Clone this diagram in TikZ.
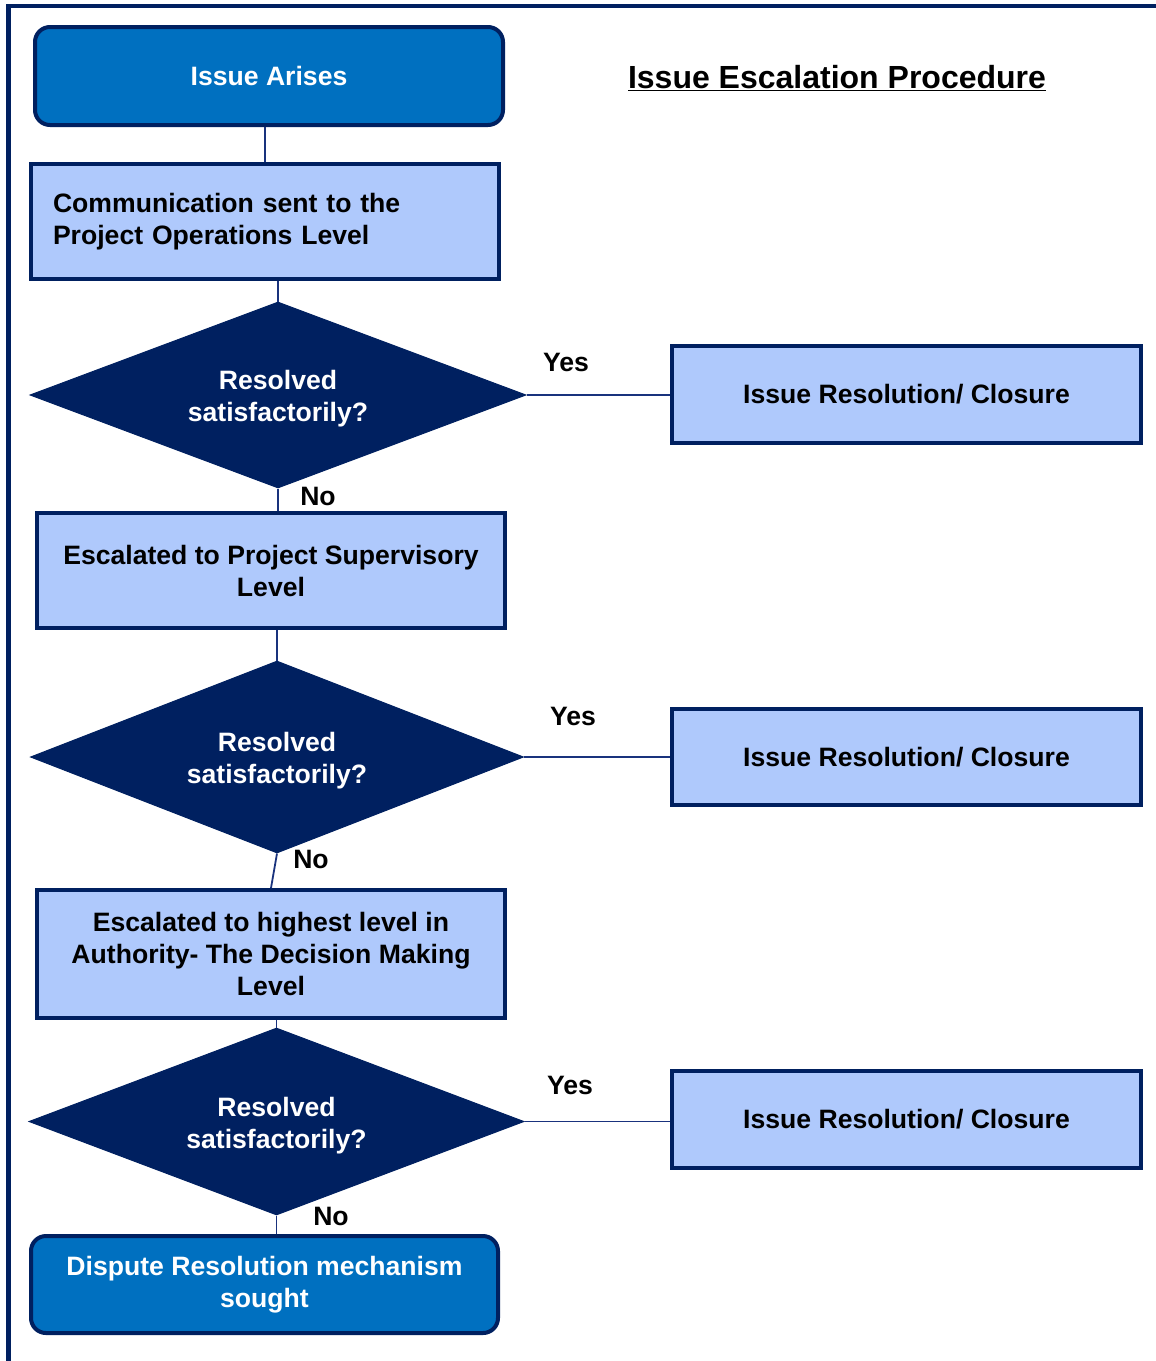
\documentclass[tikz,border=0pt]{standalone}
\usepackage{fontspec}
\setmainfont{Liberation Sans}
\usetikzlibrary{shapes.geometric}
\definecolor{navy}{RGB}{0,32,96}
\definecolor{midblue}{RGB}{0,112,192}
\definecolor{paleblue}{RGB}{175,201,252}
\definecolor{linkblue}{RGB}{25,50,125}
\begin{document}
\begin{tikzpicture}[x=1pt,y=-1pt,
  txt/.style={font=\fontsize{26.6}{32}\selectfont\bfseries},
  terminal/.style={txt, draw=navy, line width=4pt, fill=midblue, text=white,
    rounded corners=15pt, minimum width=468pt, align=center, inner sep=0pt},
  stepbox/.style={txt, draw=navy, line width=4pt, fill=paleblue, text=black,
    minimum width=468pt, align=center, inner sep=0pt},
  decision/.style={diamond, shape aspect=2.65, draw=navy, line width=1pt,
    fill=navy, inner sep=0pt,
    label={[txt, text=white, align=center, inner sep=0pt, yshift=-4pt]center:Resolved\\satisfactorily?}},
  link/.style={draw=linkblue, line width=1.8pt},
  tag/.style={txt, text=black, inner sep=0pt}]
\useasboundingbox (0,0) rectangle (1156,1361);

% page frame (top and left rules)
\draw[navy, line width=4.5pt] (8.5,1361) -- (8.5,6) -- (1156,6);

% title
\node[font=\fontsize{32}{38}\selectfont\bfseries, inner sep=0pt] (title) at (837,78)
  {\underline{Issue Escalation Procedure}};

% main column
\node[terminal, minimum height=98pt] (start) at (269,76) {Issue Arises};
\node[stepbox, minimum height=115pt, align=left, text width=424pt, inner xsep=22pt]
  (ops) at (265,221.5) {Communication sent to the\\Project Operations Level};
\node[decision, minimum width=496pt, minimum height=186pt] (q1) at (278,395) {};
\node[stepbox, minimum height=115pt] (sup) at (271,570.5)
  {Escalated to Project Supervisory\\Level};
\node[decision, minimum width=493pt, minimum height=192pt] (q2) at (277,757) {};
\node[stepbox, minimum height=128pt] (top) at (271,954)
  {Escalated to highest level in\\Authority- The Decision Making\\Level};
\node[decision, minimum width=495pt, minimum height=187pt] (q3) at (276.5,1121.5) {};
\node[terminal, minimum width=467pt, minimum height=97pt] (dispute) at (264.5,1284.5)
  {Dispute Resolution mechanism\\sought};

% closure boxes
\node[stepbox, minimum width=469pt, minimum height=97pt] (close1) at (906.5,394.5)
  {Issue Resolution/ Closure};
\node[stepbox, minimum width=469pt, minimum height=96pt] (close2) at (906.5,757)
  {Issue Resolution/ Closure};
\node[stepbox, minimum width=469pt, minimum height=97pt] (close3) at (906.5,1119.5)
  {Issue Resolution/ Closure};

% connectors
\draw[link] (start.south -| ops.north) -- (ops.north);
\draw[link] (q1.north |- ops.south) -- (q1.north);
\draw[link] (q1.east) -- (q1.east -| close1.west);
\draw[link] (q1.south) -- (q1.south |- sup.north);
\draw[link] (q2.north |- sup.south) -- (q2.north);
\draw[link] (q2.east) -- (q2.east -| close2.west);
\draw[link] (q2.south) -- (top.north);
\draw[link] (q3.north |- top.south) -- (q3.north);
\draw[link] (q3.east) -- (q3.east -| close3.west);
\draw[link] (q3.south) -- (q3.south |- dispute.north);

% branch labels
\node[tag] (yes1) at (566,362) {Yes};
\node[tag] (no1) at (318,496) {No};
\node[tag] (yes2) at (573,716) {Yes};
\node[tag] (no2) at (311,859) {No};
\node[tag] (yes3) at (570,1085) {Yes};
\node[tag] (no3) at (331,1216) {No};
\end{tikzpicture}
\end{document}
